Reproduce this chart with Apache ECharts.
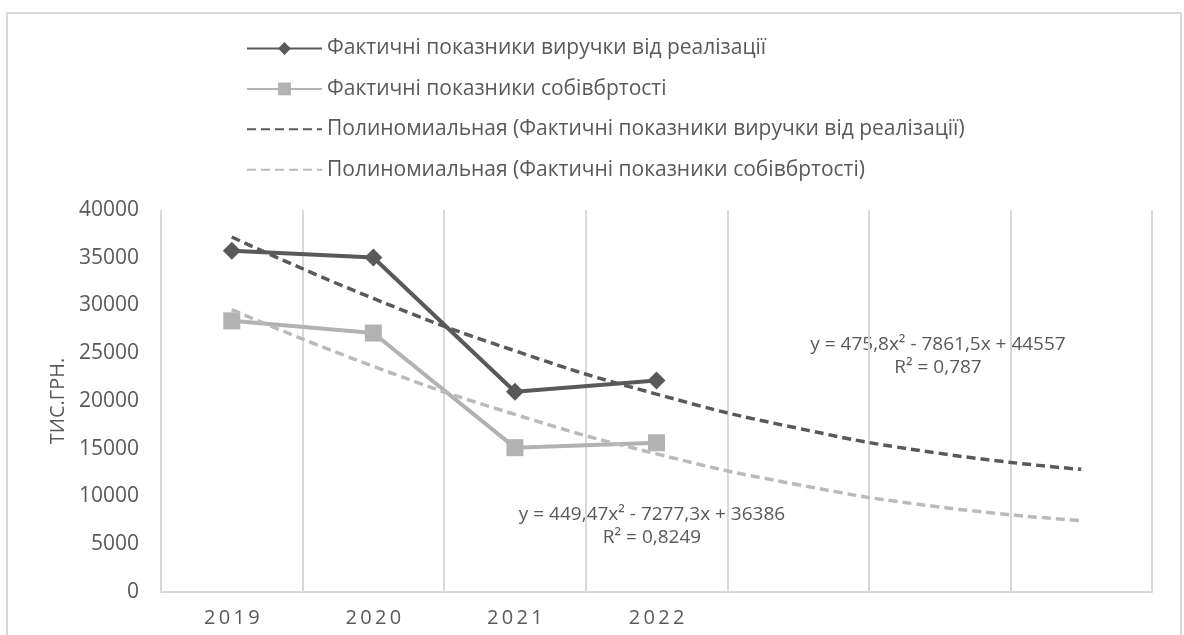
<!DOCTYPE html>
<html>
<head>
<meta charset="utf-8">
<script src="https://cdn.jsdelivr.net/npm/echarts@6/dist/echarts.min.js"></script>
<style>
  html, body { margin: 0; padding: 0; background: #ffffff; }
  #chart { width: 1184px; height: 635px; }
</style>
</head>
<body>
<div id="chart"></div>
<script>
// Years on the category axis; the three blank slots carry the forecast part of the trends
const categories = ['2019', '2020', '2021', '2022', '', '', ''];

// Actual figures, thousand UAH
const revenue = [35742, 35028, 20965, 22154];
const cost = [28396, 27115, 15113, 15630];

// Polynomial (2nd order) trend values at each category slot
const revenueTrend = [37171, 30737, 25255, 20724, 17145, 14517, 12841];
const costTrend = [29558, 23629, 18599, 14468, 11236, 8903, 7469];

// Trend equations printed on the plot
const revenueEquation = ['y = 475,8x² - 7861,5x + 44557', 'R² = 0,787'];
const costEquation = ['y = 449,47x² - 7277,3x + 36386', 'R² = 0,8249'];

const seriesNames = [
  'Фактичні показники виручки від реалізації',
  'Фактичні показники собівбртості',
  'Полиномиальная (Фактичні показники виручки від реалізації)',
  'Полиномиальная (Фактичні показники собівбртості)'
];

const yAxisName = 'ТИС.ГРН.';

const FONT = '"Open Sans", "Liberation Sans", sans-serif';
const TEXT = '#595959';
const DARK = '#595959';
const LIGHT = '#b2b2b2';
const LIGHT_TREND = '#bababa';
const GRID = '#d9d9d9';
const NO_FILL = 'rgba(0,0,0,0)';

const chart = echarts.init(document.getElementById('chart'), null, { renderer: 'canvas' });

chart.setOption({
  backgroundColor: '#ffffff',
  animation: false,
  textStyle: { fontFamily: FONT, color: TEXT },
  grid: { left: 161, right: 32, top: 210, bottom: 43, containLabel: false },
  legend: {
    orient: 'vertical',
    left: 241,
    top: 33,
    itemWidth: 75,
    itemHeight: 16,
    itemGap: 19.4,
    data: seriesNames,
    textStyle: { fontFamily: FONT, fontSize: 21, color: TEXT }
  },
  xAxis: {
    type: 'category',
    data: categories,
    boundaryGap: true,
    axisLine: { show: true, lineStyle: { color: GRID, width: 2 } },
    axisTick: { show: false },
    splitLine: { show: true, lineStyle: { color: GRID, width: 2 } },
    axisLabel: {
      fontFamily: FONT,
      fontSize: 20,
      color: TEXT,
      margin: 16,
      interval: 0,
      formatter: (v) => v.split('').join('\u2009')
    }
  },
  yAxis: {
    type: 'value',
    min: 0,
    max: 40000,
    interval: 5000,
    name: yAxisName,
    nameLocation: 'middle',
    nameRotate: 90,
    nameGap: 92,
    nameTextStyle: { fontFamily: FONT, fontSize: 20, color: TEXT },
    axisLine: { show: false },
    axisTick: { show: false },
    splitLine: { show: false },
    axisLabel: {
      fontFamily: FONT, fontSize: 21, color: TEXT, margin: 22,
      formatter: (v) => String(v)
    }
  },
  series: [
    {
      name: seriesNames[0],
      type: 'line',
      data: revenue,
      symbol: 'diamond',
      symbolSize: 18,
      itemStyle: { color: DARK },
      lineStyle: { color: DARK, width: 4 },
      z: 3
    },
    {
      name: seriesNames[1],
      type: 'line',
      data: cost,
      symbol: 'rect',
      symbolSize: 17,
      itemStyle: { color: LIGHT },
      lineStyle: { color: LIGHT, width: 4 },
      z: 2
    },
    {
      name: seriesNames[2],
      type: 'line',
      data: revenueTrend,
      smooth: 0.5,
      symbol: 'none',
      itemStyle: { color: NO_FILL },
      lineStyle: { color: DARK, width: 3.5, type: [9, 5] },
      z: 4
    },
    {
      name: seriesNames[3],
      type: 'line',
      data: costTrend,
      smooth: 0.5,
      symbol: 'none',
      itemStyle: { color: NO_FILL },
      lineStyle: { color: LIGHT_TREND, width: 3.5, type: [9, 5] },
      z: 4
    }
  ],
  graphic: [
    {
      type: 'rect',
      silent: true,
      shape: { x: 7, y: 13, width: 1174, height: 640 },
      style: { fill: 'none', stroke: GRID, lineWidth: 2 }
    },
    {
      type: 'text',
      silent: true,
      x: 938, y: 356,
      style: {
        text: revenueEquation.join('\n'),
        textAlign: 'center', textVerticalAlign: 'middle',
        font: '19px ' + FONT, fill: TEXT, lineHeight: 23
      }
    },
    {
      type: 'text',
      silent: true,
      x: 652, y: 526,
      style: {
        text: costEquation.join('\n'),
        textAlign: 'center', textVerticalAlign: 'middle',
        font: '19px ' + FONT, fill: TEXT, lineHeight: 23
      }
    }
  ]
});
</script>
</body>
</html>
